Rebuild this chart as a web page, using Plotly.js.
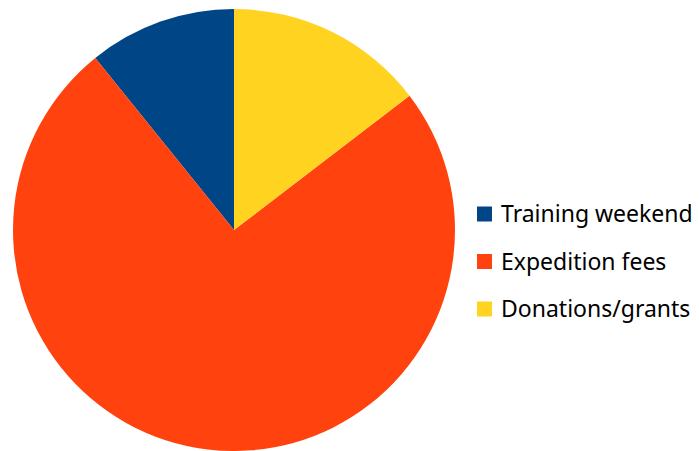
<!DOCTYPE html>
<html><head><meta charset="utf-8">
<script src="https://cdn.plot.ly/plotly-3.0.1.min.js"></script>
<style>html,body{margin:0;padding:0;background:#fff}</style>
</head><body><div id="chart" style="width:699px;height:451px"></div>
<script>
const labels = ["Training weekend", "Expedition fees", "Donations/grants"];
const values = [10.8, 74.6, 14.6];
const colors = ["#004586", "#ff420e", "#ffd320"];

const W = 699, H = 451;
const legendTop = 214, legendStep = 47.5;
const shapes = [], annotations = [];
labels.forEach((lab, i) => {
  const cy = legendTop + i * legendStep;
  shapes.push({type: "rect", xref: "paper", yref: "paper",
    x0: 477 / W, x1: 492 / W, y0: 1 - (cy + 7.5) / H, y1: 1 - (cy - 7.5) / H,
    fillcolor: colors[i], line: {width: 0}});
  annotations.push({xref: "paper", yref: "paper", x: 499 / W, y: 1 - (cy - 1) / H,
    xanchor: "left", yanchor: "middle", showarrow: false, text: lab,
    font: {family: "Noto Sans", size: 23, color: "#000"}});
});

const total = values.reduce((a, b) => a + b, 0);
const startAngle = -values[0] / total * 360;

Plotly.newPlot("chart", [{
  type: "pie", labels: labels, values: values, sort: false,
  direction: "counterclockwise", rotation: startAngle,
  marker: {colors: colors, line: {width: 0}},
  textinfo: "none", hoverinfo: "label+value",
  domain: {x: [13 / W, 455 / W], y: [0, 1 - 9 / H]}
}], {
  width: W, height: H, margin: {l: 0, r: 0, t: 0, b: 0},
  showlegend: false, paper_bgcolor: "#fff", plot_bgcolor: "#fff",
  shapes: shapes, annotations: annotations
}, {displayModeBar: false, staticPlot: true});
</script></body></html>
